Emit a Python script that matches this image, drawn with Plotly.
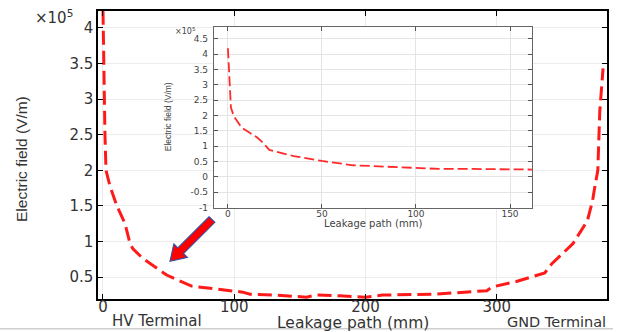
import plotly.graph_objects as go
import math

# ---------------- data ----------------
# main curve: leakage path (mm) vs electric field (x1e5 V/m)
main_x = [0, 0.8, 1.5, 2.3, 5.3, 10.6, 16.8, 20.6, 22.8, 30.5, 41, 48.5, 67.5, 74, 89,
          106.6, 112, 130, 155, 163, 180, 200, 213, 247, 251, 292.5, 296, 315,
          336.6, 342, 358, 369, 373, 374, 377, 378.5, 381]
main_y = [4.24, 3.0, 2.5, 2.0, 1.78, 1.5, 1.25, 0.97, 0.9, 0.76, 0.625, 0.53, 0.375, 0.36, 0.32,
          0.29, 0.26, 0.25, 0.22, 0.25, 0.24, 0.22, 0.25, 0.25, 0.26, 0.31, 0.36, 0.44,
          0.56, 0.69, 0.97, 1.29, 1.57, 1.69, 2.0, 2.83, 3.43]

# inset (zoom of the HV side)
inset_x = [0, 1.6, 3.2, 7.4, 12, 15.4, 18, 22, 35, 50, 66.5, 80, 91.5, 100, 113, 130, 150, 156, 162]
inset_y = [4.19, 2.26, 1.97, 1.6, 1.42, 1.29, 1.15, 0.88, 0.68, 0.52, 0.38, 0.35, 0.32, 0.31,
           0.26, 0.26, 0.25, 0.23, 0.24]

main_xticks = [0, 100, 200, 300]
main_yticks = [0.5, 1, 1.5, 2, 2.5, 3, 3.5, 4]
inset_xticks = [0, 50, 100, 150]
inset_yticks = [-1, -0.5, 0, 0.5, 1, 1.5, 2, 2.5, 3, 3.5, 4, 4.5]
inset_yticktext = ["-1", "-0.5", "0", "0.5", "1", "1.5", "2", "2.5", "3", "3.5", "4", "4.5"]

# ---------------- layout geometry ----------------
W, H = 627, 332
L, R, T, B = 98, 20, 9, 33
PW, PH = W - L - R, H - T - B


def px(xp):
    return (xp - L) / PW


def py(yp):
    return (H - B - yp) / PH


TICKFONT = dict(family="DejaVu Sans", size=15, color="#333333")
SMALLFONT = dict(family="DejaVu Sans", size=9, color="#444444")
GRID = "#ececec"

fig = go.Figure()
fig.add_trace(go.Scatter(x=main_x, y=main_y, mode="lines",
                         line=dict(color="#ff1a1a", width=3, dash="14px,6px"),
                         xaxis="x", yaxis="y", hoverinfo="skip", cliponaxis=True))
fig.add_trace(go.Scatter(x=inset_x, y=inset_y, mode="lines",
                         line=dict(color="#ff2a2a", width=1.8, dash="10px,4px"),
                         xaxis="x2", yaxis="y2", hoverinfo="skip"))

# inset domain (pixels 214..532 x, 25..207 y)
ix0, ix1, iy_top, iy_bot = 214, 532, 25, 207
x2dom = [px(ix0), px(ix1)]
y2dom = [py(iy_bot), py(iy_top)]

fig.update_layout(
    width=W, height=H,
    margin=dict(l=L, r=R, t=T, b=B),
    paper_bgcolor="white", plot_bgcolor="white",
    showlegend=False,
    xaxis=dict(domain=[0, 1], range=[-3.8, 384], tickvals=main_xticks,
               ticks="inside", ticklen=5, tickcolor="black",
               showline=True, linecolor="black", linewidth=1.5, mirror="ticks",
               showgrid=True, gridcolor=GRID, zeroline=False,
               tickfont=TICKFONT, ticklabelstandoff=-7),
    yaxis=dict(domain=[0, 1], range=[0.194, 4.236], tickvals=main_yticks,
               ticks="inside", ticklen=5, tickcolor="black",
               showline=True, linecolor="black", linewidth=1.5, mirror="ticks",
               showgrid=True, gridcolor=GRID, zeroline=False,
               tickfont=TICKFONT),
    xaxis2=dict(domain=x2dom, anchor="y2", range=[-7.4, 161.7], tickvals=inset_xticks,
                ticks="inside", ticklen=4, tickcolor="#555555",
                showline=True, linecolor="#666666", linewidth=1.2, mirror="ticks",
                showgrid=True, gridcolor="#e4e4e4", zeroline=False,
                tickfont=SMALLFONT, ticklabelstandoff=-3),
    yaxis2=dict(domain=y2dom, anchor="x2", range=[-1, 4.887], tickvals=inset_yticks,
                ticktext=inset_yticktext,
                ticks="inside", ticklen=4, tickcolor="#555555",
                showline=True, linecolor="#666666", linewidth=1.2, mirror="ticks",
                showgrid=True, gridcolor="#e4e4e4", zeroline=False,
                tickfont=SMALLFONT, ticklabelstandoff=3),
)

# white backing of the inset picture (hides main grid under it)
iw, ih = ix1 - ix0, iy_bot - iy_top
fig.add_shape(type="rect", xref="x2 domain", yref="y2 domain", layer="below",
              x0=(162 - ix0) / iw, x1=(537 - ix0) / iw,
              y0=(iy_bot - 226) / ih, y1=(iy_bot - 14) / ih,
              fillcolor="white", line=dict(width=0))

# arrow pointing to the HV-side region
tx, ty, hx, hy = 212, 219, 170, 261
dx, dy = hx - tx, hy - ty
ln = math.hypot(dx, dy)
ux, uy = dx / ln, dy / ln
nx, ny = -uy, ux
bx, by = hx - 15 * ux, hy - 15 * uy
pts = [(tx + 4 * nx, ty + 4 * ny), (bx + 4 * nx, by + 4 * ny), (bx + 9.5 * nx, by + 9.5 * ny),
       (hx, hy), (bx - 9.5 * nx, by - 9.5 * ny), (bx - 4 * nx, by - 4 * ny),
       (tx - 4 * nx, ty - 4 * ny)]
path = "M " + " L ".join(f"{px(a):.4f},{py(b):.4f}" for a, b in pts) + " Z"
fig.add_shape(type="path", xref="paper", yref="paper", path=path,
              fillcolor="#ff0000", line=dict(color="#3a4fa0", width=1.2), layer="above")

# bottom light border line
fig.add_shape(type="line", xref="paper", yref="paper", x0=px(0), x1=px(613),
              y0=py(329), y1=py(329), line=dict(color="#cfcfcf", width=1.5))

ann = []
# main axis titles / labels
ann.append(dict(text="Leakage path (mm)", x=0.5, y=py(323.5), xref="paper", yref="paper",
                showarrow=False, xanchor="center", yanchor="middle",
                font=dict(family="DejaVu Sans", size=15.5, color="#333333")))
ann.append(dict(text="HV Terminal", x=px(110), y=py(321), xref="paper", yref="paper",
                showarrow=False, xanchor="left", yanchor="middle",
                font=dict(family="DejaVu Sans", size=15, color="#333333")))
ann.append(dict(text="GND Terminal", x=px(505), y=py(322), xref="paper", yref="paper",
                showarrow=False, xanchor="left", yanchor="middle",
                font=dict(family="DejaVu Sans", size=14.5, color="#333333")))
ann.append(dict(text="Electric field (V/m)", x=px(22), y=py(158), xref="paper", yref="paper",
                showarrow=False, xanchor="center", yanchor="middle", textangle=-90,
                font=dict(family="Liberation Sans", size=15.5, color="#333333")))
ann.append(dict(text="×10<sup>5</sup>", x=px(33), y=py(15), xref="paper", yref="paper",
                showarrow=False, xanchor="left", yanchor="middle",
                font=dict(family="DejaVu Sans", size=15, color="#333333")))
# inset labels
ann.append(dict(text="Leakage path (mm)", x=px(373), y=py(222.5), xref="paper", yref="paper",
                showarrow=False, xanchor="center", yanchor="middle",
                font=dict(family="DejaVu Sans", size=10, color="#444444")))
ann.append(dict(text="Electric field (V/m)", x=px(168), y=py(116), xref="paper", yref="paper",
                showarrow=False, xanchor="center", yanchor="middle", textangle=-90,
                font=dict(family="Liberation Sans", size=8.5, color="#444444")))
ann.append(dict(text="×10<sup>5</sup>", x=px(173), y=py(29), xref="paper", yref="paper",
                showarrow=False, xanchor="left", yanchor="middle",
                font=dict(family="DejaVu Sans", size=8, color="#444444")))
fig.update_layout(annotations=ann)

fig.write_html("out.html", config={"displayModeBar": False})
